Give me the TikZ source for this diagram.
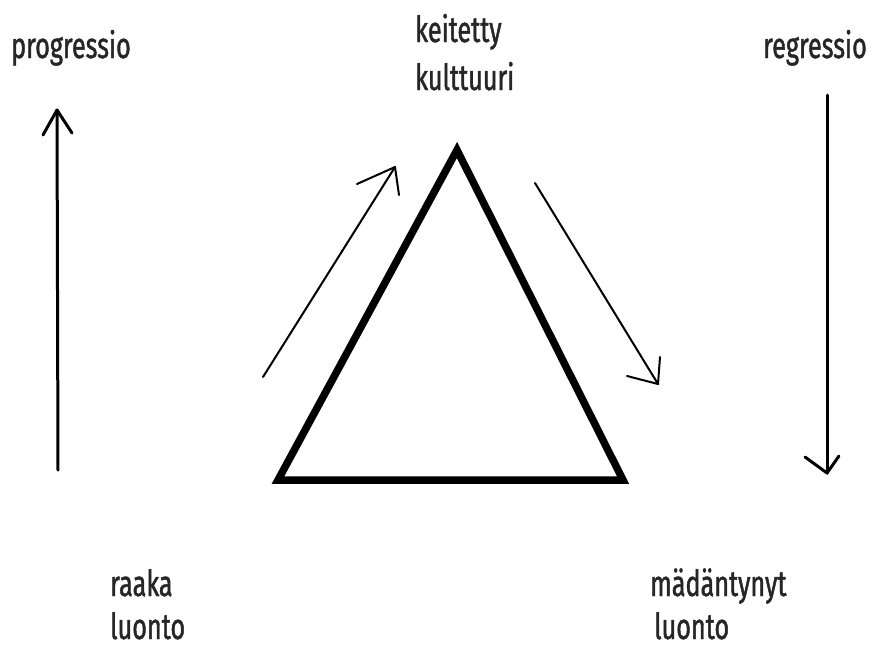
\documentclass[tikz,border=0pt]{standalone}
\usepackage{fontspec}
\newfontfamily\cond[FakeStretch=0.7,FakeBold=1.2]{Fira Sans}
\begin{document}
\begin{tikzpicture}[x=1pt,y=-1pt,
  lbl/.style={anchor=base west,inner sep=0pt,font=\cond\fontsize{36}{36}\selectfont,text=black!85},
  bigarrow/.style={line width=3pt,line cap=round,line join=round},
  thinarrow/.style={line width=2pt,line cap=round,line join=round},
  tri/.style={line width=7.5pt,line join=miter,line cap=round}]
\useasboundingbox (0,0) rectangle (879,646);
% labels
\node[lbl] (prog) at (11,58) {progressio};
\node[lbl] (keit) at (415,42) {keitetty};
\node[lbl] (kult) at (415,90) {kulttuuri};
\node[lbl] (regr) at (763,58) {regressio};
\node[lbl] (raaka) at (110,596) {raaka};
\node[lbl] (luonto1) at (110,639) {luonto};
\node[lbl] (mad) at (650,596) {mädäntynyt};
\node[lbl] (luonto2) at (654,639) {luonto};
% triangle
\coordinate (apex) at (457,150);
\coordinate (bl) at (278,480);
\coordinate (br) at (623,480);
\draw[tri] (apex) -- (bl) -- (br) -- cycle;
% left vertical arrow
\coordinate (ua0) at (58,470);
\coordinate (ua1) at (57,110);
\draw[bigarrow] (ua0) -- (ua1);
\draw[bigarrow] (43,135) -- (ua1) -- (72,133);
% right vertical arrow
\coordinate (da0) at (827,95);
\coordinate (da1) at (827,473);
\draw[bigarrow] (da0) -- (da1);
\draw[bigarrow] (805,457) -- (da1) -- (839,456);
% diagonal arrows
\coordinate (la0) at (263,377);
\coordinate (la1) at (395,167);
\draw[thinarrow] (la0) -- (la1);
\draw[thinarrow] (357,184) -- (la1) -- (399,195);
\coordinate (ra0) at (535,183);
\coordinate (ra1) at (658,384);
\draw[thinarrow] (ra0) -- (ra1);
\draw[thinarrow] (627,376) -- (ra1) -- (660,357);
\end{tikzpicture}
\end{document}
